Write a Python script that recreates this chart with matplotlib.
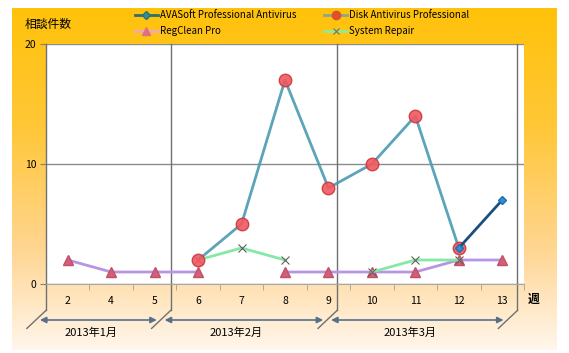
import numpy as np
import matplotlib.pyplot as plt
from matplotlib.colors import LinearSegmentedColormap
from matplotlib.lines import Line2D
import matplotlib.transforms as mtransforms

plt.rcParams['font.family'] = ['Noto Sans CJK JP', 'DejaVu Sans']

nan = np.nan
weeks = ['2', '4', '5', '6', '7', '8', '9', '10', '11', '12', '13']
avasoft = [nan, nan, nan, nan, nan, nan, nan, nan, nan, 3, 7]
disk = [nan, nan, nan, 2, 5, 17, 8, 10, 14, 3, nan]
regclean = [2, 1, 1, 1, nan, 1, 1, 1, 1, 2, 2]
sysrepair = [nan, nan, nan, 2, 3, 2, nan, 1, 2, 2, nan]

series_names = ['AVASoft Professional Antivirus', 'Disk Antivirus Professional',
                'RegClean Pro', 'System Repair']
months = ['2013年1月', '2013年2月', '2013年3月']
# month bracket edges on the category axis
month_edges = [-0.5, 2.37, 6.2, 10.35]


def main():
    fig = plt.figure(figsize=(5.69, 3.53), dpi=100)
    fig.patch.set_facecolor('white')

    # gradient background box
    bg = fig.add_axes([12 / 569, 1 - 350 / 353, 545 / 569, 342 / 353])
    cmap = LinearSegmentedColormap.from_list(
        'bg', [(0, '#FFC20A'), (0.35, '#FFC738'), (0.7, '#FFD590'), (1, '#FFF6EC')])
    grad = np.linspace(0, 1, 256).reshape(-1, 1)
    bg.imshow(grad, aspect='auto', cmap=cmap, extent=[0, 1, 0, 1], origin='upper')
    bg.set_axis_off()

    ax = fig.add_axes([46 / 569, 1 - 284 / 353, 478 / 569, 240 / 353])
    ax.set_facecolor('white')
    x = np.arange(len(weeks))

    ax.plot(x, regclean, color='#B894E4', lw=2, marker='^', ms=7,
            mfc='#D2607A', mec='#C25068', zorder=3)
    ax.plot(x, sysrepair, color='#86E8A6', lw=2, marker='x', ms=6,
            mec='#606060', mew=0.8, zorder=4)
    ax.plot(x, disk, color='#4A9AB0', lw=2, marker='o', ms=9,
            mfc='#F0585E', mec='#C83A40', alpha=0.9, zorder=5)
    ax.plot(x, avasoft, color='#1A4F7E', lw=2, marker='D', ms=4.5,
            mfc='#2E8FD8', mec='#1E6FB0', zorder=6)

    ax.set_xlim(-0.5, len(weeks) - 0.5)
    ax.set_ylim(0, 20)
    ax.set_yticks([0, 10, 20])
    ax.yaxis.grid(True, color='#8C8C8C', lw=1)
    ax.set_axisbelow(True)
    ax.set_xticks(x)
    ax.set_xticklabels(weeks)
    ax.set_xticks(np.arange(-0.5, len(weeks)), minor=True)
    ax.tick_params(axis='x', which='major', length=0, pad=9, labelsize=7.5)
    ax.tick_params(axis='x', which='minor', length=4, color='#A0A0A0', direction='out')
    ax.tick_params(axis='y', length=4, color='#808080', labelsize=7.5, pad=3)
    for s in ['top', 'right']:
        ax.spines[s].set_visible(False)
    ax.spines['bottom'].set_color('#A8A8A8')
    ax.spines['left'].set_visible(False)

    # month brackets below the axis
    trans = mtransforms.blended_transform_factory(ax.transData, ax.transAxes)
    line_kw = dict(color='#707070', lw=1, transform=trans, clip_on=False)
    for e in month_edges:
        ax.plot([e, e], [0, 1], **line_kw)
        ax.plot([e, e], [-0.11, 0], **line_kw)
        ax.plot([e, e - 0.44], [-0.11, -0.185], **line_kw)
    for i, m in enumerate(months):
        a, b = month_edges[i], month_edges[i + 1]
        ax.annotate('', xy=(b - 0.32, -0.15), xytext=(a - 0.14, -0.15),
                    xycoords=trans, textcoords=trans, annotation_clip=False,
                    arrowprops=dict(arrowstyle='<|-|>', color='#55708E', lw=1.2,
                                    mutation_scale=9, shrinkA=0, shrinkB=0))
        ax.text((a + b) / 2 - 0.4, -0.205, m, transform=trans, ha='center',
                va='center', fontsize=8)

    fig.text(25 / 569, 1 - 24 / 353, '相談件数', fontsize=8.5, va='center', ha='left')
    fig.text(534 / 569, 1 - 299 / 353, '週', fontsize=8.5, va='center', ha='center',
             fontweight='bold')

    handles = [
        Line2D([], [], color='#2E7070', lw=2, marker='D', ms=4, mfc='#2E8FA0', mec='#2E7070'),
        Line2D([], [], color='#8FA488', lw=2, marker='o', ms=6, mfc='#E0502A', mec='#E0502A'),
        Line2D([], [], color='#F0A8B8', lw=2, marker='^', ms=6, mfc='#E07080', mec='#E07080'),
        Line2D([], [], color='#90EC90', lw=2, marker='x', ms=5, mec='#707070', mew=0.8),
    ]
    pos = [(135, 15), (324, 15), (135, 31), (324, 31)]
    for h, name, (px, py) in zip(handles, series_names, pos):
        ln = Line2D([px / 569, (px + 23) / 569], [1 - py / 353] * 2,
                    color=h.get_color(), lw=2, transform=fig.transFigure)
        fig.add_artist(ln)
        mk = Line2D([(px + 11.5) / 569], [1 - py / 353], marker=h.get_marker(),
                    ms=h.get_markersize(), mfc=h.get_markerfacecolor(),
                    mec=h.get_markeredgecolor(), mew=h.get_markeredgewidth(),
                    linestyle='none', transform=fig.transFigure)
        fig.add_artist(mk)
        fig.text((px + 25) / 569, 1 - py / 353, name, fontsize=7, va='center', ha='left')

    plt.savefig('out.png', dpi=100)


if __name__ == "__main__":
    main()
